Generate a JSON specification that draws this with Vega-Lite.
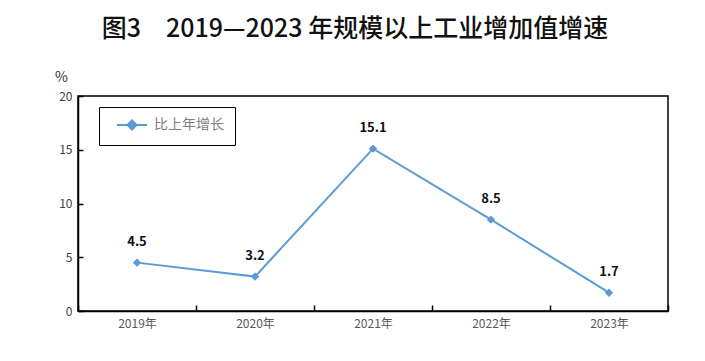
{
  "$schema": "https://vega.github.io/schema/vega-lite/v6.json",
  "autosize": {"type": "none"},
  "width": 590,
  "height": 215,
  "padding": {"left": 78, "top": 96, "right": 37, "bottom": 50},
  "background": "white",
  "title": {
    "text": "图3　2019—2023 年规模以上工业增加值增速",
    "font": "Noto Sans CJK SC",
    "fontSize": 25,
    "fontWeight": 500,
    "color": "#111111",
    "anchor": "middle",
    "dx": -18,
    "offset": 28
  },
  "config": {
    "font": "Noto Sans CJK SC",
    "view": {"stroke": "#000000", "strokeWidth": 1.5}
  },
  "data": {
    "values": [
      {"year": "2019年", "value": 4.5, "series": "比上年增长"},
      {"year": "2020年", "value": 3.2, "series": "比上年增长"},
      {"year": "2021年", "value": 15.1, "series": "比上年增长"},
      {"year": "2022年", "value": 8.5, "series": "比上年增长"},
      {"year": "2023年", "value": 1.7, "series": "比上年增长"}
    ]
  },
  "encoding": {
    "x": {
      "field": "year",
      "type": "nominal",
      "sort": null,
      "scale": {"paddingInner": 0, "paddingOuter": 0},
      "axis": {
        "title": null,
        "labelAngle": 0,
        "labelFontSize": 12,
        "labelColor": "#595959",
        "labelPadding": 13,
        "tickBand": "extent",
        "tickSize": -6,
        "tickColor": "#000000",
        "tickWidth": 1.5,
        "domainColor": "#000000",
        "domainWidth": 1.5
      }
    },
    "y": {
      "field": "value",
      "type": "quantitative",
      "scale": {"domain": [0, 20]},
      "axis": {
        "values": [0, 5, 10, 15, 20],
        "grid": false,
        "title": "%",
        "titleAngle": 0,
        "titleFontSize": 14,
        "titleFontWeight": "normal",
        "titleColor": "#333333",
        "titleAlign": "center",
        "titleBaseline": "bottom",
        "titleX": -17,
        "titleY": -12,
        "labelFontSize": 12,
        "labelColor": "#404040",
        "labelPadding": 11,
        "tickSize": -5,
        "tickColor": "#000000",
        "tickWidth": 1.5,
        "domainColor": "#000000",
        "domainWidth": 1.5
      }
    }
  },
  "layer": [
    {
      "mark": {
        "type": "line",
        "strokeWidth": 2,
        "point": {"shape": "diamond", "size": 70, "filled": true}
      },
      "encoding": {
        "color": {
          "field": "series",
          "type": "nominal",
          "scale": {"range": ["#5b9bd5"]},
          "legend": {
            "title": null,
            "orient": "none",
            "legendX": 21,
            "legendY": 11,
            "strokeColor": "#000000",
            "padding": 11,
            "symbolType": "M-3,0L3,0M-0.9,0L0,-0.9L0.9,0L0,0.9Z",
            "symbolSize": 100,
            "symbolStrokeWidth": 2,
            "symbolFillColor": "#5b9bd5",
            "symbolOffset": 15,
            "labelFontSize": 14,
            "labelColor": "#7f7f7f",
            "labelOffset": 15
          }
        }
      }
    },
    {
      "mark": {
        "type": "text",
        "dy": -21,
        "fontSize": 13,
        "fontWeight": "bold",
        "color": "#111111"
      },
      "encoding": {
        "text": {"field": "value", "type": "quantitative", "format": ".1f"}
      }
    }
  ]
}
